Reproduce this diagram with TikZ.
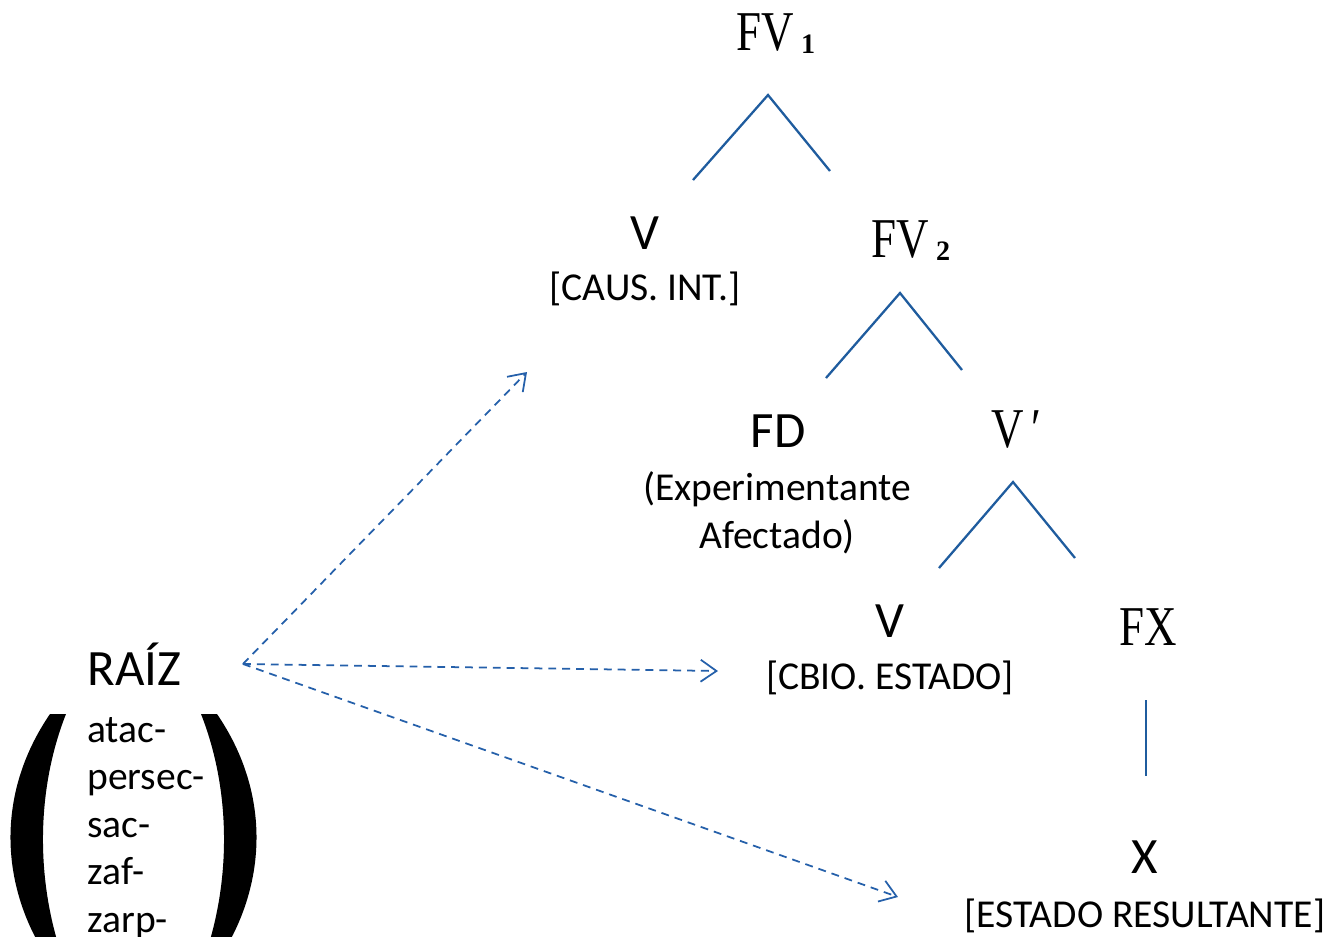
\documentclass[tikz,border=0pt]{standalone}
\usepackage{fontspec}
\setmainfont{Carlito}
\newfontfamily\catfont{Liberation Serif}
\usepackage{graphicx}
\usetikzlibrary{arrows.meta}

\definecolor{treeblue}{RGB}{31,92,158}
\definecolor{linkblue}{RGB}{37,96,170}

% serif category labels (FV, FX, V')
\newcommand{\catname}[1]{\scalebox{0.8}[1]{\catfont\fontsize{32}{36}\selectfont #1}}
\newcommand{\catsub}[1]{\hspace{4pt}\raisebox{-2pt}{\catfont\bfseries\fontsize{16}{18}\selectfont #1}}

\begin{document}
\begin{tikzpicture}[x=0.02cm, y=-0.02cm,
    cat/.style = {anchor=base, inner sep=0pt},
    big/.style = {anchor=base, inner sep=0pt, font=\fontsize{29}{34}\selectfont},
    small/.style = {anchor=base, inner sep=0pt, font=\fontsize{22.5}{27}\selectfont},
    tree/.style = {treeblue, line width=1.3pt},
    link/.style = {linkblue, line width=1pt, dash pattern=on 4.5pt off 3.4pt,
        -{Straight Barb[length=9pt,width=12.5pt]}}]
    \useasboundingbox (0,0) rectangle (1330,937);

    % tree
    \node[cat] (fv1) at (776,50) {\catname{FV}\catsub{1}};
    \node[big] (v1) at (645,249) {V};
    \node[small] (v1-feat) at (645,300) {[CAUS. INT.]};
    \node[cat] (fv2) at (911,257) {\catname{FV}\catsub{2}};
    \node[big] (fd) at (778,447) {FD};
    \node[small] (fd-a) at (777,500) {(Experimentante};
    \node[small] (fd-b) at (777,548) {Afectado)};
    \node[cat] (vbar) at (1016,447) {\catname{V\,′}};
    \node[big] (v2) at (890,637) {V};
    \node[small] (v2-feat) at (890,689) {[CBIO. ESTADO]};
    \node[cat] (fx) at (1148,645) {\catname{FX}};
    \node[big] (x) at (1145,873) {X};
    \node[small] (x-feat) at (1145,927) {[ESTADO RESULTANTE]};

    \coordinate (fv1-top) at (768,95);
    \coordinate (fv1-l) at (693,180);
    \coordinate (fv1-r) at (830,171);
    \coordinate (fv2-top) at (900,293);
    \coordinate (fv2-l) at (826,378);
    \coordinate (fv2-r) at (962,370);
    \coordinate (vbar-top) at (1013,482);
    \coordinate (vbar-l) at (939,568);
    \coordinate (vbar-r) at (1075,558);
    \coordinate (fx-top) at (1146,700);
    \coordinate (fx-bot) at (1146,776);
    \draw[tree] (fv1-l) -- (fv1-top) -- (fv1-r);
    \draw[tree] (fv2-l) -- (fv2-top) -- (fv2-r);
    \draw[tree] (vbar-l) -- (vbar-top) -- (vbar-r);
    \draw[tree] (fx-top) -- (fx-bot);

    % root list
    \node[big, anchor=base west] (raiz) at (87,685) {RAÍZ};
    \foreach \r [count=\i from 0] in {atac-,persec-,sac-,zaf-,zarp-}
        \node[small, anchor=base west] (root\i) at (87,742+47.5*\i) {\r};
    \fill (50,714) .. controls (-2,790) and (-2,880) .. (46,956)
        -- (62,956) .. controls (36,880) and (36,790) .. (66,714) -- cycle;
    \fill (217,714) .. controls (269,790) and (269,880) .. (221,956)
        -- (205,956) .. controls (231,880) and (231,790) .. (201,714) -- cycle;

    % links
    \coordinate (src) at (243,664);
    \coordinate (to-v1) at (527,372);
    \coordinate (to-v2) at (718,671);
    \coordinate (to-x) at (898,897);
    \draw[link] (src) -- (to-v1);
    \draw[link] (src) -- (to-v2);
    \draw[link] (src) -- (to-x);
\end{tikzpicture}
\end{document}
